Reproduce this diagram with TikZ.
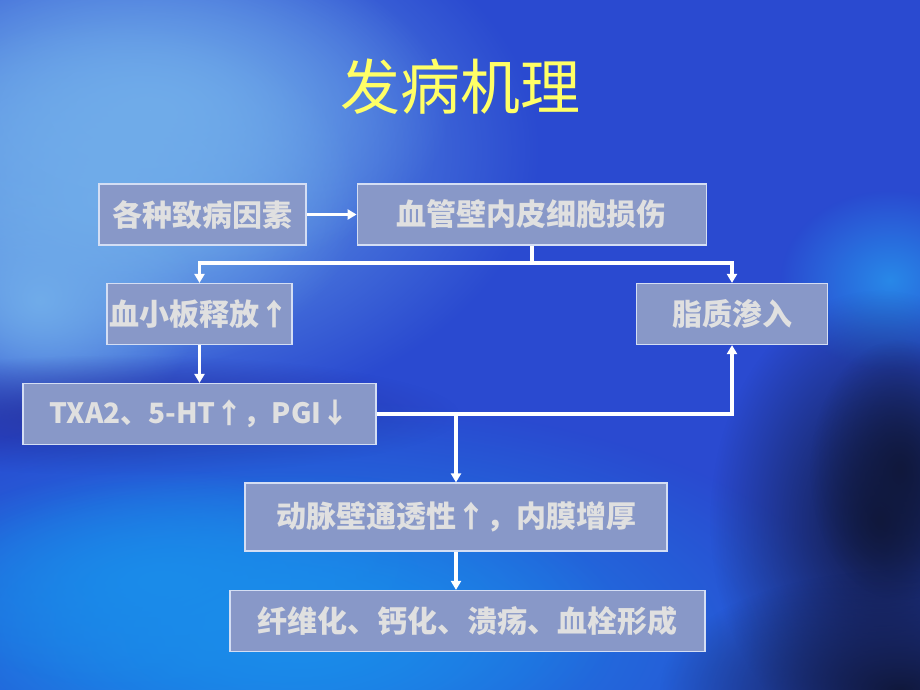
\documentclass[tikz,border=0pt]{standalone}
\usepackage{fontspec}
\setmainfont{Noto Sans CJK SC}
\usetikzlibrary{arrows.meta,fadings,positioning}

\definecolor{bgbase}{HTML}{2A4AD0}
\definecolor{boxfill}{HTML}{8898C8}
\definecolor{boxline}{HTML}{D4DEF4}
\definecolor{boxtext}{HTML}{E0E0E0}
\definecolor{titleyellow}{HTML}{FFFF66}
\definecolor{skylight}{RGB}{112,172,234}
\definecolor{bandshadow}{RGB}{36,48,160}
\definecolor{brightsea}{RGB}{26,140,234}
\definecolor{glowblue}{RGB}{40,136,232}
\definecolor{nightblue}{RGB}{16,24,60}
\tikzfading[name=soft blob, inner color=transparent!0, outer color=transparent!100]

\begin{document}
\begin{tikzpicture}[x=1pt,y=-1pt,
    step box/.style={draw=boxline, line width=1.2pt, fill=boxfill, text=boxtext,
      font=\fontsize{30}{33}\selectfont\bfseries, inner sep=0pt, minimum height=61pt},
    flow/.style={draw=white, line width=3.6pt, -{Triangle[length=9pt,width=10pt]}},
    blob/.style={path fading=soft blob}]
    % background
    \useasboundingbox (0,0) rectangle (920,690);
    \clip (0,0) rectangle (920,690);
    \fill[bgbase] (0,0) rectangle (920,690);
    \foreach \c/\x/\y/\rx/\ry in {skylight/120/150/420/280, skylight/100/200/260/180,
        skylight/150/110/300/170, skylight/40/300/160/140, bandshadow/120/415/340/60,
        brightsea/300/640/560/240, brightsea/260/620/360/150, brightsea/160/580/260/110,
        glowblue/890/280/110/90,
        nightblue/880/520/170/230, nightblue/900/470/90/130,
        nightblue/900/690/240/120}
      \fill[blob, color=\c] (\x,\y) ellipse [x radius=\rx, y radius=\ry];

    \node[text=titleyellow, font=\fontsize{60}{64}\selectfont] (title) at (460,87) {发病机理};

    \node[step box, minimum width=207pt] (cause) at (202.5,214.5) {各种致病因素};
    \node[step box, minimum width=349pt, right=50pt of cause] (injury) {血管壁内皮细胞损伤};
    \node[step box, minimum width=185pt] (platelet) at (199.5,314) {血小板释放↑};
    \node[step box, minimum width=191pt] (lipid) at (732,314) {脂质渗入};
    \node[step box, minimum width=353pt, font=\fontsize{28}{31}\selectfont\bfseries] (txa) at (199.5,414) {TXA2、5-HT↑，PGI↓};
    \node[step box, minimum width=422pt, minimum height=68pt] (perm) at (456,517) {动脉壁通透性↑，内膜增厚};
    \node[step box, minimum width=475pt] (fibro) at (467.5,621) {纤维化、钙化、溃疡、血栓形成};

    \coordinate (split) at (injury.south |- 0,263);
    \coordinate (join) at (perm.north |- txa.east);

    \draw[flow] (cause) -- (injury);
    \draw[draw=white, line width=3.6pt] (injury.south) -- (split);
    \draw[flow] (split) -| (platelet.north);
    \draw[flow] (split) -| (lipid.north);
    \draw[flow] (platelet) -- (txa);
    \draw[flow] (txa.east) -| (lipid.south);
    \draw[flow] (join) -- (perm.north);
    \draw[flow] (perm.south) -- (perm.south |- fibro.north);
\end{tikzpicture}
\end{document}
